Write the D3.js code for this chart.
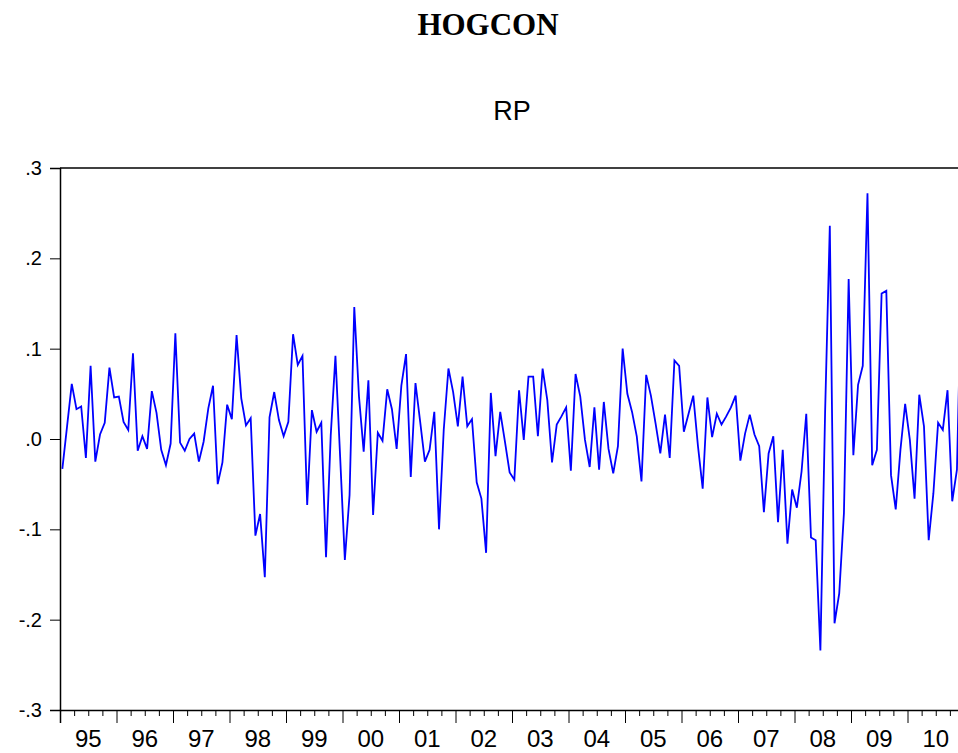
<!DOCTYPE html>
<html>
<head>
<meta charset="utf-8">
<script src="https://cdn.jsdelivr.net/npm/d3@7"></script>
<style>
  html, body { margin: 0; padding: 0; background: #ffffff; overflow: hidden; }
  svg { display: block; }
</style>
</head>
<body>
<svg id="chart" width="958" height="753"></svg>
<script>
// Monthly RP series, 1995:01 - 2010:12
const startYear = 1995;
const endYear = 2010;
const rpValues = [
  -0.033, 0.014, 0.061, 0.033, 0.036, -0.021, 0.081, -0.025, 0.005, 0.018, 0.079, 0.046,
  0.047, 0.019, 0.010, 0.095, -0.013, 0.003, -0.011, 0.053, 0.029, -0.012, -0.029, -0.005,
  0.117, -0.004, -0.013, 0.000, 0.006, -0.025, -0.003, 0.034, 0.059, -0.050, -0.026, 0.038,
  0.022, 0.115, 0.045, 0.015, 0.023, -0.107, -0.083, -0.153, 0.024, 0.052, 0.021, 0.003,
  0.019, 0.116, 0.082, 0.092, -0.073, 0.032, 0.008, 0.018, -0.131, 0.004, 0.092, -0.020,
  -0.134, -0.062, 0.146, 0.047, -0.014, 0.065, -0.084, 0.007, -0.002, 0.055, 0.033, -0.011,
  0.059, 0.094, -0.042, 0.062, 0.019, -0.025, -0.012, 0.030, -0.100, 0.010, 0.078, 0.052,
  0.014, 0.069, 0.014, 0.022, -0.048, -0.066, -0.126, 0.051, -0.019, 0.030, -0.003, -0.037,
  -0.045, 0.054, -0.001, 0.069, 0.069, 0.003, 0.078, 0.043, -0.026, 0.016, 0.025, 0.035,
  -0.035, 0.072, 0.047, -0.001, -0.031, 0.035, -0.034, 0.041, -0.011, -0.038, -0.008, 0.100,
  0.050, 0.030, 0.003, -0.047, 0.071, 0.048, 0.017, -0.016, 0.027, -0.021, 0.087, 0.081,
  0.008, 0.028, 0.048, -0.008, -0.055, 0.046, 0.002, 0.028, 0.016, 0.025, 0.035, 0.048,
  -0.024, 0.006, 0.027, 0.005, -0.008, -0.081, -0.016, 0.003, -0.092, -0.012, -0.116, -0.056,
  -0.076, -0.036, 0.028, -0.109, -0.112, -0.234, 0.030, 0.236, -0.204, -0.171, -0.082, 0.177,
  -0.018, 0.060, 0.081, 0.272, -0.029, -0.012, 0.161, 0.164, -0.040, -0.078, -0.012, 0.039,
  -0.001, -0.066, 0.049, 0.014, -0.112, -0.060, 0.018, 0.010, 0.054, -0.069, -0.034, 0.190
];
const yTickValues = [-0.3, -0.2, -0.1, 0.0, 0.1, 0.2, 0.3];
const yTickLabels = ["-.3", "-.2", "-.1", ".0", ".1", ".2", ".3"];
const yearLabels = ["95", "96", "97", "98", "99", "00", "01", "02", "03", "04", "05", "06", "07", "08", "09", "10"];

const svg = d3.select("#chart");
const W = 958, H = 753;
const margin = { left: 60, top: 168, bottom: 43 };
const nMonths = (endYear - startYear + 1) * 12;
const plotRight = 964; // frame runs just past the page edge

// time position measured in months from Jan 1995
const x = d3.scaleLinear().domain([0, nMonths]).range([margin.left, plotRight]);
const y = d3.scaleLinear().domain([-0.3, 0.3]).range([H - margin.bottom, margin.top]);

svg.append("rect").attr("width", W).attr("height", H).attr("fill", "#ffffff");

// titles
svg.append("text")
  .attr("x", 488).attr("y", 35)
  .attr("text-anchor", "middle")
  .attr("font-family", "'Liberation Serif', 'Times New Roman', serif")
  .attr("font-weight", "bold")
  .attr("font-size", 31)
  .attr("fill", "#000")
  .text("HOGCON");

svg.append("text")
  .attr("x", (margin.left + plotRight) / 2).attr("y", 120)
  .attr("text-anchor", "middle")
  .attr("font-family", "'Liberation Sans', Arial, sans-serif")
  .attr("font-size", 27)
  .attr("fill", "#000")
  .text("RP");

// series line
const line = d3.line()
  .x((d, i) => x(i + 0.5))
  .y(d => y(d));

svg.append("defs").append("clipPath").attr("id", "plotclip")
  .append("rect")
  .attr("x", margin.left).attr("y", margin.top)
  .attr("width", plotRight - margin.left).attr("height", y(-0.3) - margin.top);

svg.append("path")
  .datum(rpValues)
  .attr("clip-path", "url(#plotclip)")
  .attr("fill", "none")
  .attr("stroke", "#0000ff")
  .attr("stroke-width", 1.8)
  .attr("stroke-linejoin", "miter")
  .attr("d", line);

// frame: top edge
svg.append("line")
  .attr("x1", margin.left).attr("x2", plotRight)
  .attr("y1", y(0.3)).attr("y2", y(0.3))
  .attr("stroke", "#000").attr("stroke-width", 1.5);

// left axis
const yAxis = d3.axisLeft(y)
  .tickValues(yTickValues)
  .tickSize(10)
  .tickPadding(8)
  .tickFormat((d, i) => yTickLabels[i]);

const gy = svg.append("g")
  .attr("transform", `translate(${margin.left},0)`)
  .call(yAxis);
gy.select(".domain").attr("stroke", "#000").attr("stroke-width", 1.5);
gy.selectAll(".tick line").attr("stroke", "#000").attr("stroke-width", 1);
gy.selectAll(".tick text")
  .attr("font-family", "'Liberation Sans', Arial, sans-serif")
  .attr("font-size", 20)
  .attr("fill", "#000");

// bottom axis: long ticks at year boundaries, short ticks at quarters
const yearTicks = d3.range(0, nMonths + 1, 12);
const quarterTicks = d3.range(0, nMonths + 1, 3).filter(m => m % 12 !== 0);

const gx = svg.append("g")
  .attr("transform", `translate(0,${y(-0.3)})`)
  .call(d3.axisBottom(x).tickValues(yearTicks).tickSize(13).tickFormat(""));
gx.select(".domain").attr("stroke", "#000").attr("stroke-width", 1.5);
gx.selectAll(".tick line").attr("stroke", "#000").attr("stroke-width", 1);

const gxMinor = svg.append("g")
  .attr("transform", `translate(0,${y(-0.3)})`)
  .call(d3.axisBottom(x).tickValues(quarterTicks).tickSize(6).tickFormat(""));
gxMinor.select(".domain").remove();
gxMinor.selectAll(".tick line").attr("stroke", "#000").attr("stroke-width", 1);

// year labels centred in each year
svg.append("g").selectAll("text")
  .data(yearLabels)
  .join("text")
  .attr("x", (d, i) => x(i * 12 + 6))
  .attr("y", 747)
  .attr("text-anchor", "middle")
  .attr("font-family", "'Liberation Sans', Arial, sans-serif")
  .attr("font-size", 24)
  .attr("fill", "#000")
  .text(d => d);
</script>
</body>
</html>
